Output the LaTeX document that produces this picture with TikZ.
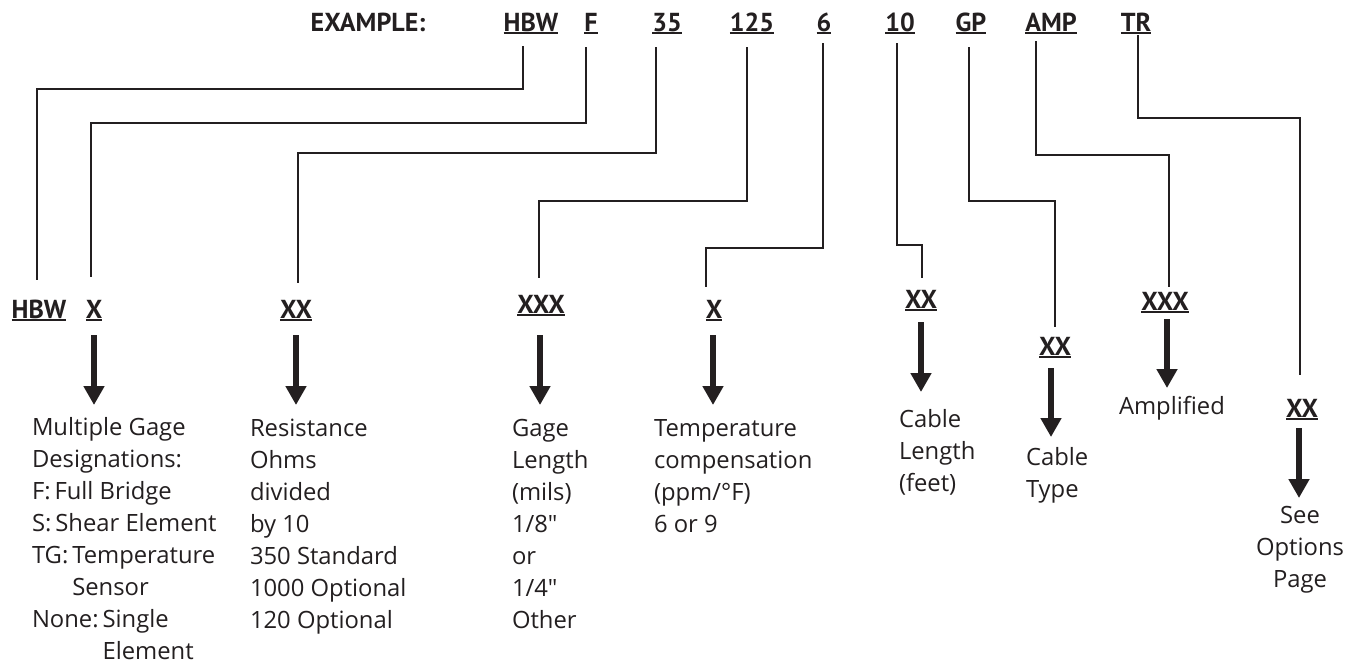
\documentclass[tikz,border=0pt]{standalone}
\usepackage{fontspec}
\setmainfont{Open Sans}
\newfontfamily\condfont{PT Sans}
\usetikzlibrary{arrows.meta,calc}
\definecolor{ink}{HTML}{231F20}
\newcommand{\labfont}{\condfont\bfseries\fontsize{26}{30}\selectfont}
\newcommand{\descfont}{\fontsize{23.8}{32}\selectfont}
\newcommand{\ulab}[1]{\setbox0\hbox{#1}\rlap{\color{ink}\rule[-3pt]{\wd0}{1.6pt}}\box0}
\begin{document}
\begin{tikzpicture}[x=1pt,y=-1pt,
  lab/.style={inner sep=0pt, outer sep=0pt, anchor=base, font=\labfont, text=ink},
  desc/.style={inner sep=0pt, outer sep=0pt, anchor=base west, align=left, font=\descfont, text=ink},
  conn/.style={draw=ink, line width=2pt},
  bigarrow/.style={draw=ink, line width=5.5pt, -{Triangle[width=20pt,length=19pt]}}
]
\useasboundingbox[fill=white] (0,0) rectangle (1358,664);
% top row
\node[lab] (tEx) at (368,31) {EXAMPLE:};
\node[lab] (tHBW) at (531,31) {\ulab{HBW}};
\node[lab] (tF) at (591,31) {\ulab{F}};
\node[lab] (t35) at (667,31) {\ulab{35}};
\node[lab] (t125) at (752,31) {\ulab{125}};
\node[lab] (t6) at (824,31) {\ulab{6}};
\node[lab] (t10) at (900,31) {\ulab{10}};
\node[lab] (tGP) at (971,31) {\ulab{GP}};
\node[lab] (tAMP) at (1051,31) {\ulab{AMP}};
\node[lab] (tTR) at (1136,31) {\ulab{TR}};
% bottom labels
\node[lab] (bHBW) at (39,318) {\ulab{HBW}};
\node[lab] (bX) at (94,318) {\ulab{X}};
\node[lab] (bXXa) at (296,318) {\ulab{XX}};
\node[lab] (bXXXa) at (541,313) {\ulab{XXX}};
\node[lab] (bXb) at (714,318) {\ulab{X}};
\node[lab] (bXXb) at (921,308) {\ulab{XX}};
\node[lab] (bXXc) at (1055,355) {\ulab{XX}};
\node[lab] (bXXXb) at (1165,310) {\ulab{XXX}};
\node[lab] (bXXd) at (1302,417) {\ulab{XX}};
% connectors
\draw[conn] ([xshift=-8pt,yshift=-15pt]tHBW.base) -- ++(0,43) -| ([xshift=-2pt,yshift=38pt]bHBW.base);
\draw[conn] ([xshift=-5pt,yshift=-16pt]tF.base) -- ++(0,76) -| ([xshift=-3pt,yshift=41pt]bX.base);
\draw[conn] ([xshift=-11pt,yshift=-16pt]t35.base) -- ++(0,106) -| ([xshift=2pt,yshift=35pt]bXXa.base);
\draw[conn] ([xshift=-5pt,yshift=-16pt]t125.base) -- ++(0,154) -| ([xshift=-2pt,yshift=35pt]bXXXa.base);
\draw[conn] ([xshift=-1pt,yshift=-12pt]t6.base) -- ++(0,205) -| ([xshift=-8pt,yshift=31pt]bXb.base);
\draw[conn] ([xshift=-3pt,yshift=-12pt]t10.base) -- ++(0,202) -| ([xshift=1pt,yshift=30pt]bXXb.base);
\draw[conn] ([xshift=-2pt,yshift=-16pt]tGP.base) -- ++(0,154) -| ([yshift=28pt]bXXc.base);
\draw[conn] ([xshift=-15pt,yshift=-10pt]tAMP.base) -- ++(0,114) -| ([xshift=4pt,yshift=23pt]bXXXb.base);
\draw[conn] ([xshift=2pt,yshift=-4pt]tTR.base) -- ++(0,83) -| ([xshift=-2pt,yshift=42pt]bXXd.base);
% descriptions (base anchor = baseline of the last line)
\node[desc] (dGage) at (32,659) {Multiple Gage\\Designations:\\F:\,Full Bridge\\S:\,Shear Element\\TG:\,Temperature\\\phantom{TG:\,}Sensor\\None:\,Single\\\phantom{None:\,}Element};
\node[desc] (dRes) at (250,628) {Resistance\\Ohms\\divided\\by 10\\350 Standard\\1000 Optional\\120 Optional};
\node[desc] (dLen) at (512,628) {Gage\\Length\\(mils)\\1/8\textquotedbl\\or\\1/4\textquotedbl\\Other};
\node[desc] (dTemp) at (654,532) {Temperature\\compensation\\(ppm/°F)\\6 or 9};
\node[desc] (dCab) at (899,491) {Cable\\Length\\(feet)};
\node[desc] (dType) at (1026,497) {Cable\\Type};
\node[desc] (dAmp) at (1119,414) {Amplified};
\node[desc, anchor=base, align=center] (dOpt) at (1300,587) {See\\Options\\Page};
% arrows
\draw[bigarrow] ([yshift=-17pt]bX.base) -- ++(0,70);
\draw[bigarrow] ([yshift=-17pt]bXXa.base) -- ++(0,70);
\draw[bigarrow] ([xshift=-1pt,yshift=-22pt]bXXXa.base) -- ++(0,70);
\draw[bigarrow] ([xshift=-1pt,yshift=-17pt]bXb.base) -- ++(0,70);
\draw[bigarrow] ([yshift=-14pt]bXXb.base) -- ++(0,70);
\draw[bigarrow] ([xshift=-4pt,yshift=-13pt]bXXc.base) -- ++(0,69);
\draw[bigarrow] ([xshift=2pt,yshift=-9pt]bXXXb.base) -- ++(0,69);
\draw[bigarrow] ([xshift=-3pt,yshift=-11pt]bXXd.base) -- ++(0,70);
\end{tikzpicture}
\end{document}
